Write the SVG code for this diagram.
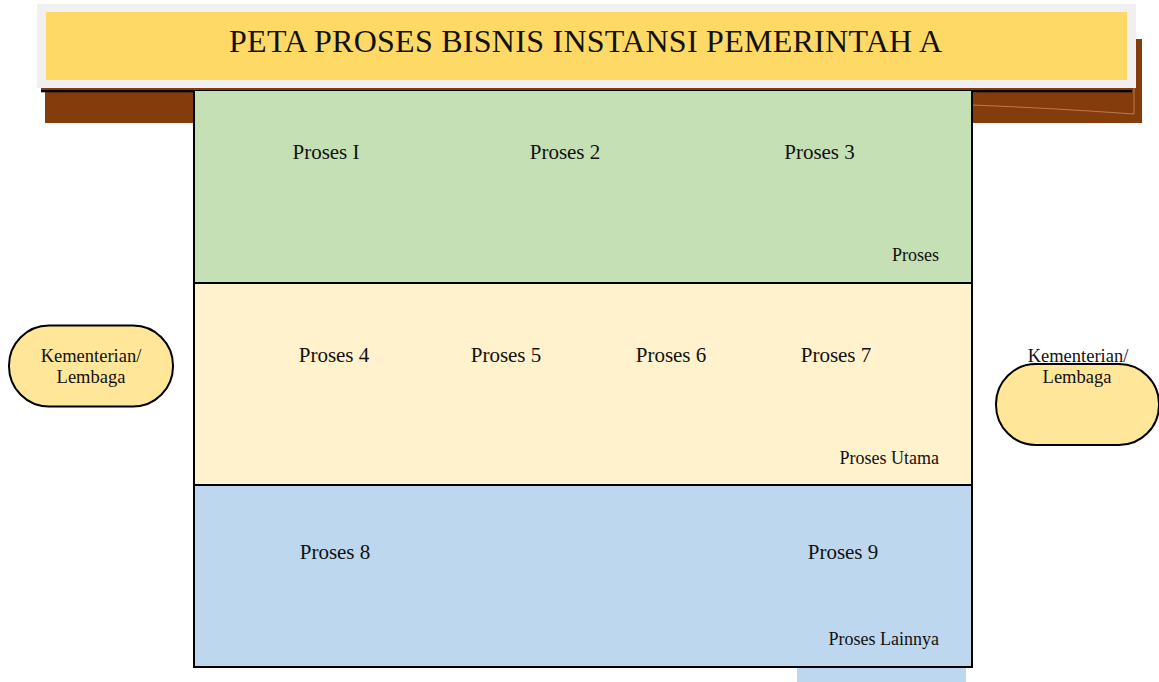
<svg xmlns="http://www.w3.org/2000/svg" width="1159" height="682" viewBox="0 0 1159 682">
<style>
text{font-family:"Liberation Serif","Times New Roman",serif;fill:#111}
.lbl{font-size:21px;text-anchor:middle}
.sec{font-size:18px;text-anchor:end}
.pill{fill:#FFE699;stroke:#000;stroke-width:2}
.pt{font-size:18.5px;text-anchor:middle}
.brown{fill:#843C0C}
</style>
<rect width="1159" height="682" fill="#fff"/>
<g id="banner">
<rect class="brown" x="972" y="39" width="170" height="84"/>
<rect class="brown" x="41" y="88" width="1095" height="4"/>
<rect class="brown" x="45" y="88" width="149" height="35"/>
<path d="M972 105 Q1050 108 1134 114 L1134 88" fill="none" stroke="#c98a62" stroke-width="0.8"/>
<rect x="37" y="4" width="1099" height="84" fill="#F0F0F0"/>
<rect x="46" y="12" width="1081" height="68" fill="#FFD966"/>
<text x="229" y="52" font-size="32" textLength="713" lengthAdjust="spacing">PETA PROSES BISNIS INSTANSI PEMERINTAH A</text>
<rect x="41" y="90" width="1091" height="2.3" fill="#000"/>
</g>
<rect x="797" y="667" width="169" height="15" fill="#BDD7EE"/>
<g id="lane-proses">
<rect x="194" y="91" width="778" height="192" fill="#C5E0B4"/>
<text class="lbl" x="326" y="159">Proses I</text>
<text class="lbl" x="565" y="159">Proses 2</text>
<text class="lbl" x="819.5" y="159">Proses 3</text>
<text class="sec" x="939" y="261">Proses</text>
</g>
<g id="lane-utama">
<rect x="194" y="283" width="778" height="202" fill="#FFF2CC"/>
<text class="lbl" x="334" y="362">Proses 4</text>
<text class="lbl" x="506" y="362">Proses 5</text>
<text class="lbl" x="671" y="362">Proses 6</text>
<text class="lbl" x="836" y="362">Proses 7</text>
<text class="sec" x="939" y="464">Proses Utama</text>
</g>
<g id="lane-lainnya">
<rect x="194" y="485" width="778" height="182" fill="#BDD7EE"/>
<text class="lbl" x="335" y="559">Proses 8</text>
<text class="lbl" x="843" y="559">Proses 9</text>
<text class="sec" x="939" y="645">Proses Lainnya</text>
</g>
<g id="connectors">
<path d="M194 91 V667 H972 V91 M194 283 H972 M194 485 H972" fill="none" stroke="#000" stroke-width="2"/>
</g>
<g id="kl-left">
<rect class="pill" x="9" y="325.5" width="164" height="81" rx="40" ry="40"/>
<text class="pt" x="91" y="362">Kementerian/</text>
<text class="pt" x="91" y="382.5">Lembaga</text>
</g>
<g id="kl-right">
<rect class="pill" x="996" y="364" width="163" height="81" rx="40" ry="40"/>
<text class="pt" x="1078" y="362">Kementerian/</text>
<text class="pt" x="1077" y="383">Lembaga</text>
</g>
</svg>
